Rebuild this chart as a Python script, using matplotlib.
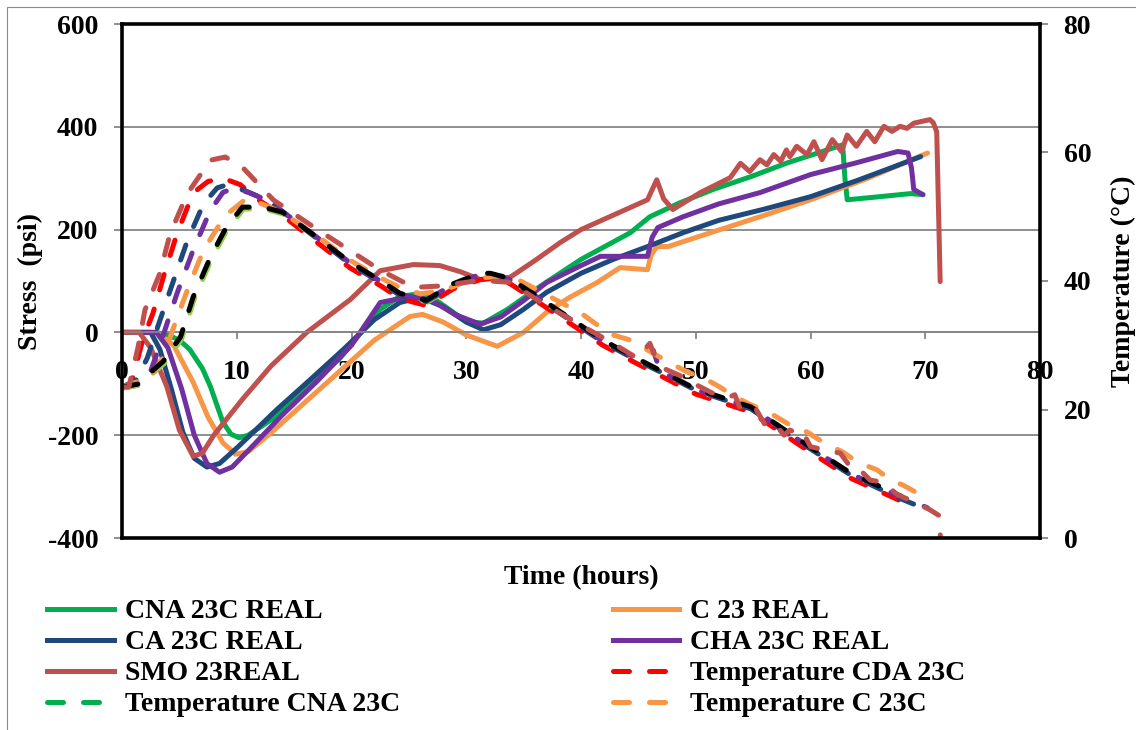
import matplotlib.pyplot as plt
from matplotlib.lines import Line2D
from matplotlib.patches import Rectangle

# ---- stress curves (psi) ----
cna_t = [0, 3.0, 4.0, 5.0, 5.9, 7.0, 7.7, 8.8, 9.5, 10.2, 11, 13, 16, 19, 22.5, 24.2, 25.5, 26.9, 28.5, 30,
         31.5, 33.6, 36.4, 40, 44.3, 46, 48.6, 51.5, 54.8, 58, 60.5, 62.8, 63.0, 63.2, 66, 68.7, 69.8]
cna_s = [0, 0, -5, -15, -33, -70, -105, -175, -198, -205, -200, -170, -112, -50, 45, 70, 74, 70, 45, 21,
         18, 45, 89, 142, 194, 225, 252, 278, 303, 330, 348, 365, 300, 258, 264, 270, 268]

c_t = [0, 3.0, 4.5, 6.2, 7.5, 8.8, 9.9, 11, 13, 16, 19, 22, 25.1, 26.2, 28, 30, 32.7, 35, 37, 39, 41.4, 43.4,
       45.8, 46.1, 46.6, 47.6, 51.3, 55.6, 60, 65, 70.2]
c_s = [0, 0, -25, -97, -165, -215, -237, -232, -195, -135, -75, -15, 31, 35, 20, -5, -27, 0, 39, 68, 97, 126,
       122, 150, 167, 167, 194, 225, 258, 300, 349]

ca_t = [0, 2.5, 3.3, 4.3, 5.3, 6.3, 7.4, 8.5, 10, 13.5, 16.5, 19.3, 22, 24.2, 26, 28, 30, 31.5, 33, 35, 37,
        40, 42.8, 45.8, 48.9, 52, 56, 60, 64, 67, 69.6]
ca_s = [0, 0, -33, -110, -194, -245, -262, -255, -225, -150, -90, -33, 25, 58, 68, 50, 20, 5, 15, 45, 78,
        115, 142, 167, 194, 218, 240, 264, 295, 320, 342]

cha_t = [0, 3.0, 4.0, 5.2, 6.3, 7.4, 8.5, 9.6, 11, 14, 17, 20, 22.5, 25.1, 27, 29, 31.2, 33, 35, 37, 40,
         41.7, 45.8, 46.2, 46.7, 48.9, 52, 55.6, 60, 64, 67.6, 68.5, 68.8, 69.0, 69.8]
cha_s = [0, 0, -30, -110, -200, -255, -272, -262, -230, -160, -95, -25, 58, 70, 62, 35, 16, 30, 62, 97, 130,
         148, 148, 185, 204, 225, 250, 272, 307, 330, 352, 349, 320, 278, 268]

smo_t = [0, 1.5, 2.5, 3.9, 5.0, 6.2, 7.0, 8.0, 10.5, 13, 16.1, 19.9, 22.5, 25.4, 27.7, 29.5, 31.2, 33.8,
         36, 38.2, 40, 43, 45.8, 46.6, 47.2, 48, 50.4, 53, 53.9, 54.7, 55.6, 56.2, 56.8, 57.4, 57.9, 58.2,
         58.8, 59.7, 60.3, 61.0, 61.9, 62.7, 63.2, 64.0, 64.9, 65.6, 66.4, 67.1, 67.8, 68.4, 69.0, 70.4,
         70.7, 71.0, 71.3]
smo_s = [0, 0, -30, -105, -190, -241, -235, -200, -130, -65, 0, 64, 120, 132, 130, 118, 103, 107,
         140, 175, 200, 230, 258, 297, 260, 239, 272, 301, 329, 313, 336, 326, 346, 333, 355, 342,
         362, 346, 371, 336, 375, 352, 384, 362, 391, 371, 401, 391, 401, 397, 407, 414,
         408, 390, 99]

# ---- temperature curves (deg C) ----
tcda_t = [0, 0.8, 1.8, 2.7, 3.6, 4.8, 6.2, 7.5, 8.8, 10.3, 12, 14, 17, 19.9, 22.5, 24.2, 25.4, 26.5, 28.9,
          31.2, 32.1, 33.8, 36.7, 39.3, 41.9, 44.6, 47.2, 50, 54.8, 59.1, 63.5, 67.7]
tcda_T = [23.5, 24, 30.8, 35, 40.6, 47.4, 53.7, 55.5, 56, 55, 52.5, 50.2, 46, 42, 39.3, 37.3, 36.7, 36.2,
          38.8, 40.2, 40.4, 39.6, 36.2, 33.1, 30, 27.4, 25, 22.4, 19.6, 14.4, 9.3, 5.9]

tcna_t = [0, 1.6, 2.8, 3.7, 5.2, 6.3, 7.8, 9.2, 10.6, 12.4, 14.1, 17.1, 20, 22.6, 24.3, 25.5, 26.6, 29,
          31.3, 32.2, 33.9, 36.8, 39.4, 42, 44.7, 47.3, 50.1, 54.9, 59.2, 63.6, 68]
tcna_T = [23.3, 23.8, 25.8, 27.2, 31, 37.2, 43.4, 48.1, 51.2, 51.2, 50.4, 46.5, 42.6, 39.8, 37.8, 37.2,
          36.7, 39.3, 40.9, 40.9, 40.1, 36.7, 33.6, 30.5, 27.9, 25.5, 22.9, 20.1, 14.9, 9.8, 6.2]

tc_t = [0, 2.5, 3.6, 4.4, 5.7, 7.1, 9, 10.9, 12.9, 14.5, 17, 19.9, 22.5, 24.2, 26, 28, 29.5, 31.5, 33,
        34.1, 36, 38.4, 40, 41.7, 42.8, 44.3, 47.8, 49.3, 50.7, 52.1, 53.2, 54.5, 56.8, 58.2, 59.7, 61.1,
        62.8, 64.1, 65.8, 67, 68.1, 69.6, 70.2]
tc_T = [23.5, 25, 28.2, 32.3, 38.6, 44.8, 50.2, 52.9, 51.5, 50, 47, 43.2, 40.5, 39, 38, 38.5, 39.6, 40.5,
        40.8, 40.6, 38.8, 36.5, 35, 32.8, 31.6, 30.8, 27.2, 25.8, 24.9, 23.5, 22.2, 21, 19.1, 17.6, 16.5,
        14.9, 13.4, 11.8, 10.6, 9, 8.2, 6.7, 6.2]

tca_t = [0, 1.2, 2.2, 3.1, 4.4, 5.7, 7.1, 8.3, 9.2, 10.8, 12.6, 14, 17, 19.9, 22.5, 24.2, 25.4, 26.5, 28.9,
         31.2, 32.1, 33.8, 36.7, 39.3, 41.9, 44.6, 47.2, 50, 54.8, 59.1, 63.5, 67.6, 69.5]
tca_T = [23.5, 24.5, 28, 32.8, 39.6, 46.3, 52, 54.5, 55, 54, 52.6, 50.8, 46.6, 42.6, 39.8, 37.8, 37.2,
         36.8, 39.3, 40.9, 41, 40.1, 36.8, 33.6, 30.5, 27.9, 25.6, 23, 20.1, 14.9, 9.8, 6.3, 4.9]

tcha_t = [0, 1.5, 2.4, 3.3, 4.8, 6.2, 7.7, 8.8, 9.7, 11, 12.6, 14, 17, 19.9, 22.5, 24.2, 25.4, 26.5, 28.9,
          31.2, 32.1, 33.8, 36.7, 39.3, 41.9, 44.6, 45.8, 46.3, 46.8, 47.2, 50, 54.8, 59.1, 63.5, 67.6, 70.2]
tcha_T = [23.5, 24, 25.5, 30, 38.1, 44.8, 51, 53.8, 54.4, 53.8, 52.6, 50.8, 46.8, 42.8, 40, 38, 37.4, 37,
          39.5, 41, 41.1, 40.2, 36.9, 33.8, 30.7, 28.2, 29.6, 29.2, 26.5, 25.7, 23.1, 20.3, 15.1, 10, 6.6, 4.7]

tblk_t = [0, 1.5, 2.7, 3.6, 5.1, 6.2, 7.7, 9.1, 10.5, 12.3, 14, 17, 19.9, 22.5, 24.2, 25.4, 26.5, 28.9,
          31.2, 32.1, 33.8, 36.7, 39.3, 41.9, 44.6, 47.2, 50, 54.8, 59.1, 63.5, 67.9]
tblk_T = [23.5, 24, 26.1, 27.5, 31.3, 37.5, 43.7, 48.4, 51.5, 51.5, 50.7, 46.8, 42.9, 40.1, 38.1, 37.5, 37,
          39.6, 41.2, 41.2, 40.4, 37, 33.9, 30.8, 28.2, 25.8, 23.2, 20.4, 15.2, 10.1, 6.5]

tsmo_t = [0, 0.6, 1.4, 2.0, 3.3, 4.2, 5.7, 7.7, 9, 10.5, 13.2, 16.7, 22.5, 25.4, 27.5, 29.2, 31.2, 33.8,
          36.7, 39.7, 42.3, 44.9, 46.0, 46.5, 47.2, 48.6, 50.1, 51.5, 53.0, 53.4, 53.9, 55.2, 56.2, 57.1,
          57.7, 58.2, 58.9, 59.3, 60, 62.6, 63.5, 64.1, 65.2, 66.3, 67.6, 68.7, 70.4, 71.2, 71.4]
tsmo_T = [23.5, 23.5, 29.7, 35.5, 41.2, 47.4, 53.6, 58.8, 59.3, 57.7, 52.6, 48.4, 41.7, 39, 39.2, 39.6,
          40.1, 39.8, 36.5, 33.4, 30.8, 28, 30.3, 28, 26.4, 25.3, 23.8, 22.5, 22, 22.3, 20, 20.2, 17.1,
          17.3, 16.0, 16.8, 16.3, 16.6, 14.2, 13.2, 11.0, 11.0, 9.0, 8.7, 6.7, 5.9, 4.4, 3.5, -2]

x_ticks = [0, 10, 20, 30, 40, 50, 60, 70, 80]
stress_ticks = [-400, -200, 0, 200, 400, 600]
temp_ticks = [0, 20, 40, 60, 80]


def draw_picture():
    plt.rcParams['font.family'] = 'Liberation Serif'
    plt.rcParams['font.weight'] = 'bold'
    plt.rcParams['axes.unicode_minus'] = False
    W, H = 1136, 730
    fig = plt.figure(figsize=(W / 100, H / 100), dpi=100)
    ax = fig.add_axes([122 / W, 1 - 538 / H, (1040 - 122) / W, (538 - 24) / H])
    ax2 = ax.twinx()

    grey = '#868686'
    lw = 3.6
    dash = (3.2, 4.0)

    # stress (left axis)
    ax.plot(cna_t, cna_s, color='#00B050', lw=lw, solid_capstyle='round', solid_joinstyle='round')
    ax.plot(c_t, c_s, color='#F79646', lw=lw, solid_capstyle='round', solid_joinstyle='round')
    ax.plot(ca_t, ca_s, color='#1F497D', lw=lw, solid_capstyle='round', solid_joinstyle='round')
    ax.plot(cha_t, cha_s, color='#7030A0', lw=lw, solid_capstyle='round', solid_joinstyle='round')
    ax.plot(smo_t, smo_s, color='#C0504D', lw=lw, solid_capstyle='round', solid_joinstyle='round')

    ax.set_xlim(0, 80)
    ax.set_ylim(-400, 600)
    ax.set_xticks(x_ticks)
    ax.set_yticks(stress_ticks)
    ax.yaxis.grid(True, color=grey, lw=1.3)
    ax.set_axisbelow(True)
    for s in ['top', 'left', 'right']:
        ax.spines[s].set_visible(False)
    ax.spines['bottom'].set_position(('data', 0))
    ax.spines['bottom'].set_color(grey)
    ax.spines['bottom'].set_linewidth(1.3)
    ax.tick_params(axis='x', direction='out', length=5, width=1.3, color=grey, labelsize=20, pad=15)
    ax.tick_params(axis='y', direction='out', length=6, width=1.3, color=grey, labelsize=20, pad=11)

    # temperature (right axis)
    def tline(t, T, c):
        ax2.plot(t, T, color=c, lw=lw, dashes=dash, dash_capstyle='round', dash_joinstyle='round')

    tline(tcda_t, tcda_T, '#FF0000')
    tline(tcna_t, tcna_T, '#92D050')
    tline(tca_t, tca_T, '#1F497D')
    tline(tcha_t, tcha_T, '#7030A0')
    tline(tc_t, tc_T, '#F79646')
    tline(tblk_t, tblk_T, '#000000')
    tline(tsmo_t, tsmo_T, '#C0504D')

    ax2.set_ylim(0, 80)
    ax2.set_yticks(temp_ticks)
    ax2.tick_params(axis='y', direction='out', length=6, width=1.3, color=grey, labelsize=20, pad=11)
    for s in ['top', 'bottom', 'left', 'right']:
        ax2.spines[s].set_color('black')
        ax2.spines[s].set_linewidth(2.6)

    fig.text(30 / W, 1 - 281 / H, 'Stress  (psi)', rotation=90, ha='center', va='center', fontsize=20)
    fig.text(1123 / W, 1 - 281 / H, 'Temperature (°C)', rotation=90, ha='center', va='center', fontsize=20)
    fig.text(581 / W, 1 - 578 / H, 'Time (hours)', ha='center', va='center', fontsize=20)

    # legend (two columns, row-wise like the original)
    def h(c, ls='-'):
        if ls == '-':
            return Line2D([], [], color=c, lw=lw)
        return Line2D([], [], color=c, lw=lw, dashes=dash, dash_capstyle='round')

    handles = [h('#00B050'), h('#1F497D'), h('#C0504D'), h('#00B050', '--'),
               h('#F79646'), h('#7030A0'), h('#FF0000', '--'), h('#F79646', '--')]
    labels = ['CNA 23C REAL', 'CA 23C REAL', 'SMO 23REAL', 'Temperature CNA 23C',
              'C 23 REAL', 'CHA 23C REAL', 'Temperature CDA 23C', 'Temperature C 23C']
    fig.legend(handles, labels, ncol=2, loc='upper left', bbox_to_anchor=(47 / W, 1 - 599 / H),
               frameon=False, fontsize=20, handlelength=2.4, handletextpad=0.4,
               columnspacing=7.65, labelspacing=0.2, borderpad=0, borderaxespad=0)

    # thin outer border of the chart area
    fig.add_artist(Rectangle((7 / W, -0.1), 1.2, 1.1 - 7 / H, transform=fig.transFigure,
                             fill=False, ec='#8c8c8c', lw=0.8))

    plt.savefig('out.png', dpi=100)


draw_picture()
